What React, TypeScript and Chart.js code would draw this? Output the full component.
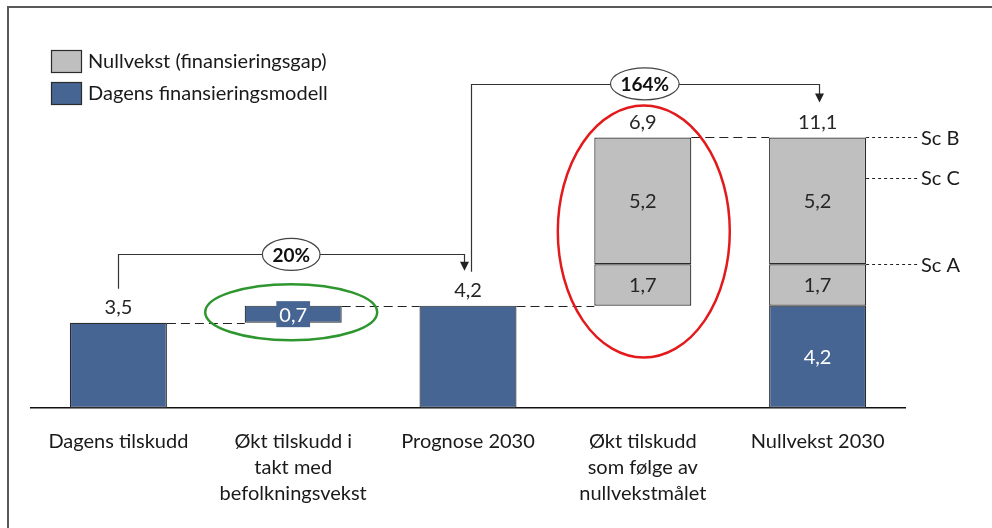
import React, { useEffect, useRef } from 'react';
import { Chart, registerables } from 'chart.js';

Chart.register(...registerables);

// ---------- data ----------
const categories: string[][] = [
  ['Dagens tilskudd'],
  ['Økt tilskudd i', 'takt med', 'befolkningsvekst'],
  ['Prognose 2030'],
  ['Økt tilskudd', 'som følge av', 'nullvekstmålet'],
  ['Nullvekst 2030'],
];
const blueBase: (number | null)[] = [0, 3.5, 0, null, 0];
const blueValues: (number | null)[] = [3.5, 0.7, 4.2, null, 4.2];
const gapBase: (number | null)[] = [null, null, null, 4.2, 4.2];
const gapScA: (number | null)[] = [null, null, null, 1.7, 1.7];
const gapScC: (number | null)[] = [null, null, null, 5.2, 5.2];
const blueInside: boolean[] = [false, true, false, false, true];
const totalShown: boolean[] = [true, false, true, true, true];
const growthBrackets = [
  { from: 0, to: 2, label: '20%', level: 6.3 },
  { from: 2, to: 4, label: '164%', level: 13.3 },
];
const scenarios = [
  { label: 'Sc B', value: 11.1 },
  { label: 'Sc C', value: 9.45 },
  { label: 'Sc A', value: 5.9 },
];
const legendItems = [
  { label: 'Nullvekst (finansieringsgap)', color: '#BFBFBF' },
  { label: 'Dagens finansieringsmodell', color: '#466592' },
];

const BLUE = '#466592';
const GRAY = '#BFBFBF';
const EDGE = '#2b2b2b';
const FONT = 'Lato, "Open Sans", sans-serif';

const fmt = (v: number) => v.toFixed(1).replace('.', ',');

const range = (base: (number | null)[], vals: (number | null)[]) =>
  vals.map((v, i) => (v == null || base[i] == null ? null : [base[i] as number, (base[i] as number) + v]));

const scAStart = gapBase;
const scCStart = gapBase.map((b, i) => (b == null ? null : b + (gapScA[i] as number)));

const barStart = (i: number) => {
  const c = [blueBase[i], gapBase[i]].filter((v) => v != null) as number[];
  return Math.min(...c);
};
const barTop = (i: number) => {
  const c: number[] = [];
  if (blueBase[i] != null) c.push((blueBase[i] as number) + (blueValues[i] as number));
  if (scCStart[i] != null) c.push((scCStart[i] as number) + (gapScC[i] as number));
  return Math.max(...c);
};

const overlay = {
  id: 'overlay',
  afterDatasetsDraw(chart: any) {
    const { ctx, scales } = chart;
    const x = scales.x;
    const y = scales.y;
    const bw = chart.getDatasetMeta(0).data[0].width as number;
    const cx = (i: number) => x.getPixelForValue(i);
    const left = (i: number) => cx(i) - bw / 2;
    const right = (i: number) => cx(i) + bw / 2;

    ctx.save();

    // frame
    ctx.strokeStyle = '#595959';
    ctx.lineWidth = 2;
    ctx.beginPath();
    ctx.moveTo(8, 528);
    ctx.lineTo(8, 7);
    ctx.lineTo(992, 7);
    ctx.stroke();

    // legend
    ctx.font = `20px ${FONT}`;
    ctx.textBaseline = 'middle';
    ctx.textAlign = 'left';
    legendItems.forEach((it, k) => {
      const top = 50 + k * 32;
      ctx.fillStyle = it.color;
      ctx.fillRect(51, top, 30, 22);
      ctx.strokeStyle = EDGE;
      ctx.lineWidth = 1.2;
      ctx.strokeRect(51.5, top + 0.5, 30, 22);
      ctx.fillStyle = '#1a1a1a';
      ctx.fillText(it.label, 88, top + 12);
    });

    // connectors
    ctx.strokeStyle = '#222';
    ctx.lineWidth = 1.2;
    ctx.setLineDash([9, 5]);
    for (let i = 0; i < categories.length - 1; i++) {
      const yy = Math.round(y.getPixelForValue(barTop(i))) + 0.5;
      ctx.beginPath();
      ctx.moveTo(right(i), yy);
      ctx.lineTo(left(i + 1), yy);
      ctx.stroke();
    }
    // scenario lines
    ctx.setLineDash([3, 3]);
    ctx.lineWidth = 1;
    const last = categories.length - 1;
    scenarios.forEach((s) => {
      const yy = Math.round(y.getPixelForValue(s.value)) + 0.5;
      ctx.beginPath();
      ctx.moveTo(right(last), yy);
      ctx.lineTo(918, yy);
      ctx.stroke();
    });
    ctx.setLineDash([]);
    ctx.fillStyle = '#1a1a1a';
    ctx.font = `20px ${FONT}`;
    ctx.textAlign = 'left';
    scenarios.forEach((s) => {
      ctx.fillText(s.label, 921, y.getPixelForValue(s.value) + 1);
    });

    // value labels above bars
    ctx.font = `20px ${FONT}`;
    ctx.textAlign = 'center';
    ctx.fillStyle = '#262626';
    categories.forEach((_, i) => {
      if (!totalShown[i]) return;
      const t = barTop(i);
      ctx.fillText(fmt(t - barStart(i)), cx(i), y.getPixelForValue(t) - 15);
    });

    // inside labels - gap segments
    [
      [scAStart, gapScA],
      [scCStart, gapScC],
    ].forEach(([st, vals]) => {
      vals.forEach((v, i) => {
        if (v == null) return;
        const yy = y.getPixelForValue((st[i] as number) + (v as number) / 2);
        ctx.fillStyle = '#262626';
        ctx.fillText(fmt(v as number), cx(i), yy + 1);
      });
    });
    // inside labels - blue
    blueValues.forEach((v, i) => {
      if (v == null || !blueInside[i]) return;
      const yy = y.getPixelForValue((blueBase[i] as number) + v / 2);
      const txt = fmt(v);
      const tw = ctx.measureText(txt).width;
      if (Math.abs(y.getPixelForValue(v) - y.getPixelForValue(0)) < 26) {
        ctx.fillStyle = BLUE;
        ctx.fillRect(cx(i) - tw / 2 - 3, yy - 13, tw + 6, 26);
      }
      ctx.fillStyle = '#ffffff';
      ctx.fillText(txt, cx(i), yy + 1);
    });

    // growth brackets
    growthBrackets.forEach((g, k) => {
      const lx = cx(g.from) + (k === 0 ? 0 : 3);
      const rx = cx(g.to) + (k === 0 ? -4 : 1);
      const ly = y.getPixelForValue(g.level);
      const startY = y.getPixelForValue(barTop(g.from)) - 34;
      const tipY = y.getPixelForValue(barTop(g.to)) - 35;
      ctx.strokeStyle = '#333';
      ctx.lineWidth = 1.2;
      ctx.beginPath();
      ctx.moveTo(Math.round(lx) + 0.5, startY);
      ctx.lineTo(Math.round(lx) + 0.5, Math.round(ly) + 0.5);
      ctx.lineTo(Math.round(rx) + 0.5, Math.round(ly) + 0.5);
      ctx.lineTo(Math.round(rx) + 0.5, tipY - 8);
      ctx.stroke();
      ctx.fillStyle = '#222';
      ctx.beginPath();
      ctx.moveTo(Math.round(rx) + 0.5 - 4.5, tipY - 9);
      ctx.lineTo(Math.round(rx) + 0.5 + 4.5, tipY - 9);
      ctx.lineTo(Math.round(rx) + 0.5, tipY);
      ctx.closePath();
      ctx.fill();
      // bubble
      ctx.font = `bold 19px ${FONT}`;
      const tw = ctx.measureText(g.label).width;
      const mx = (lx + rx) / 2;
      ctx.beginPath();
      ctx.ellipse(mx, ly, tw / 2 + 10, 16, 0, 0, Math.PI * 2);
      ctx.fillStyle = '#ffffff';
      ctx.fill();
      ctx.strokeStyle = '#444';
      ctx.lineWidth = 1.2;
      ctx.stroke();
      ctx.fillStyle = '#111';
      ctx.textAlign = 'center';
      ctx.fillText(g.label, mx, ly + 1);
    });

    // highlight ellipses
    const b1 = 1;
    const y1 = y.getPixelForValue((blueBase[b1] as number) + (blueValues[b1] as number) / 2);
    ctx.beginPath();
    ctx.ellipse(cx(b1) - 2, y1 - 2, 86, 28, 0, 0, Math.PI * 2);
    ctx.strokeStyle = '#2E962E';
    ctx.lineWidth = 2.5;
    ctx.stroke();

    const b3 = 3;
    const y3 = y.getPixelForValue((barStart(b3) + barTop(b3)) / 2);
    ctx.beginPath();
    ctx.ellipse(cx(b3) + 1, y3 + 10, 86, 126, 0, 0, Math.PI * 2);
    ctx.strokeStyle = '#E31A1C';
    ctx.lineWidth = 2.5;
    ctx.stroke();

    ctx.restore();
  },
};

export default function App() {
  const ref = useRef<HTMLCanvasElement | null>(null);
  useEffect(() => {
    if (!ref.current) return;
    const chart = new Chart(ref.current, {
      type: 'bar',
      data: {
        labels: categories,
        datasets: [
          {
            label: 'Dagens finansieringsmodell',
            data: range(blueBase, blueValues) as any,
            backgroundColor: BLUE,
            borderColor: EDGE,
            borderWidth: 1.2,
            borderSkipped: false,
          },
          {
            label: 'Nullvekst (finansieringsgap) A',
            data: range(scAStart, gapScA) as any,
            backgroundColor: GRAY,
            borderColor: EDGE,
            borderWidth: 1.2,
            borderSkipped: false,
          },
          {
            label: 'Nullvekst (finansieringsgap) C',
            data: range(scCStart, gapScC) as any,
            backgroundColor: GRAY,
            borderColor: EDGE,
            borderWidth: 1.2,
            borderSkipped: false,
          },
        ],
      },
      options: {
        responsive: false,
        animation: false,
        layout: { padding: { left: 31, right: 87, top: 18, bottom: 0 } },
        datasets: { bar: { barPercentage: 1, categoryPercentage: 0.555, grouped: false } },
        plugins: {
          legend: { display: false },
          tooltip: { enabled: false },
          title: { display: false },
        },
        scales: {
          x: {
            stacked: true,
            grid: { display: false, drawTicks: false },
            border: { display: true, color: '#111', width: 1.5 },
            ticks: {
              color: '#1a1a1a',
              font: { family: FONT, size: 20, lineHeight: '26px' } as any,
              padding: 21,
              maxRotation: 0,
              autoSkip: false,
            },
            afterFit: (s: any) => {
              s.height = 120;
            },
          },
          y: {
            display: false,
            min: 0,
            max: 16,
            stacked: false,
          },
        },
      },
      plugins: [overlay],
    });
    return () => chart.destroy();
  }, []);
  return (
    <div style={{ position: 'absolute', left: 0, top: 0, width: 992, height: 528, background: '#fff' }}>
      <canvas ref={ref} width={992} height={528} style={{ display: 'block' }} />
    </div>
  );
}
